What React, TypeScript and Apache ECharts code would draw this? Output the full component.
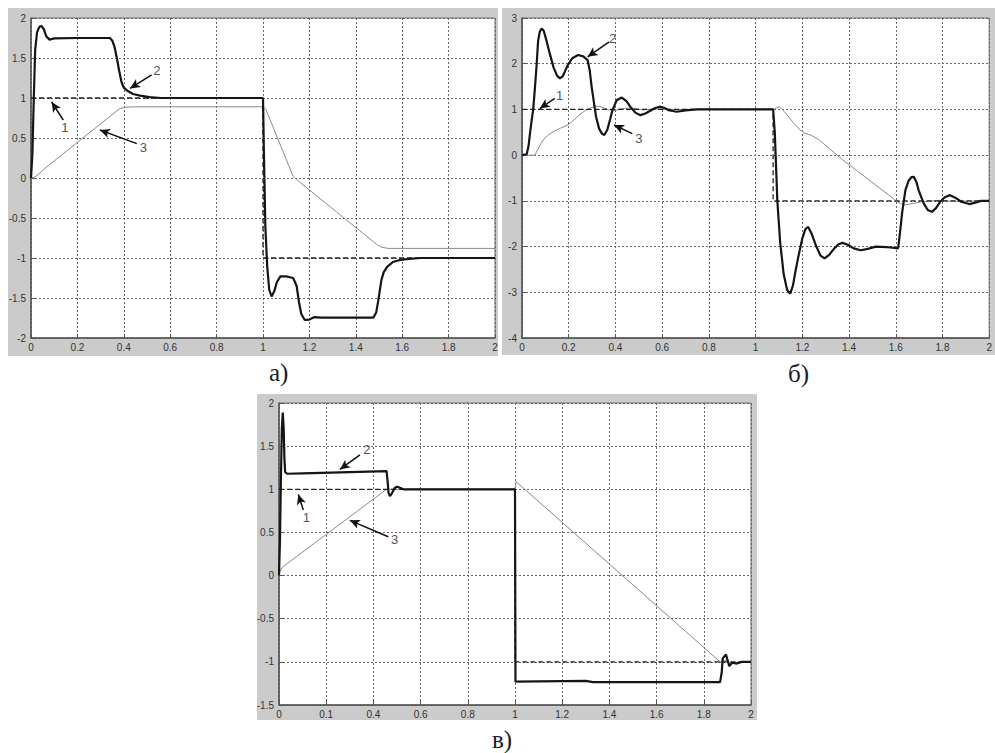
import React, { useEffect, useRef } from "react";
import * as echarts from "echarts";

// ---------- Tick labels ----------
const xTicksAB = ["0", "0.2", "0.4", "0.6", "0.8", "1", "1.2", "1.4", "1.6", "1.8", "2"];
const xTicksC = ["0", "0.1", "0.4", "0.6", "0.8", "1", "1.2", "1.4", "1.6", "1.8", "2"];
const yTicksA = ["-2", "-1.5", "-1", "-0.5", "0", "0.5", "1", "1.5", "2"];
const yTicksB = ["-4", "-3", "-2", "-1", "0", "1", "2", "3"];
const yTicksC = ["-1.5", "-1", "-0.5", "0", "0.5", "1", "1.5", "2"];

// ---------- Panel а) ----------
const aRef = [[0, 1], [1, 1], [1, -1], [2, -1]];
const aOut = [
  [0, 0], [0.006, 0.3], [0.012, 1.0], [0.018, 1.6], [0.026, 1.82], [0.036, 1.89], [0.045, 1.9],
  [0.055, 1.86], [0.066, 1.77], [0.08, 1.73], [0.1, 1.745], [0.2, 1.75], [0.34, 1.75], [0.35, 1.72],
  [0.36, 1.64], [0.37, 1.5], [0.38, 1.34], [0.39, 1.2], [0.4, 1.13], [0.415, 1.09], [0.44, 1.05],
  [0.47, 1.03], [0.51, 1.01], [0.56, 1.0], [1.0, 1.0], [1.004, 0.3], [1.01, -0.6], [1.018, -1.1],
  [1.027, -1.4], [1.037, -1.48], [1.048, -1.42], [1.06, -1.3], [1.075, -1.23], [1.1, -1.23],
  [1.13, -1.25], [1.145, -1.35], [1.155, -1.55], [1.165, -1.7], [1.18, -1.775], [1.2, -1.77],
  [1.22, -1.74], [1.25, -1.745], [1.476, -1.745], [1.488, -1.68], [1.497, -1.53], [1.51, -1.28],
  [1.52, -1.18], [1.535, -1.11], [1.56, -1.05], [1.59, -1.025], [1.63, -1.01], [1.68, -1.0], [2, -1.0],
];
const aFb = [
  [0, 0], [0.015, 0.01], [0.03, 0.04], [0.045, 0.08], [0.06, 0.12], [0.37, 0.84], [0.385, 0.87],
  [0.41, 0.885], [0.45, 0.89], [1.0, 0.89], [1.012, 0.86], [1.13, 0.02], [1.145, -0.02],
  [1.49, -0.83], [1.51, -0.865], [1.54, -0.88], [2, -0.88],
];
const aNotes = [
  { label: "1", tail: [0.139, 0.725], tip: [0.089, 0.95], text: [0.148, 0.62] },
  { label: "2", tail: [0.52, 1.29], tip: [0.427, 1.12], text: [0.545, 1.34] },
  { label: "3", tail: [0.456, 0.43], tip: [0.297, 0.6], text: [0.487, 0.38] },
];

// ---------- Panel б) ----------
const bRef = [[0, 1], [1.075, 1], [1.075, -1], [2, -1]];
const bOut = [
  [0, 0], [0.02, 0.02], [0.028, 0.2], [0.034, 0.47], [0.041, 0.75], [0.048, 1.0], [0.055, 1.45],
  [0.062, 1.93], [0.069, 2.5], [0.076, 2.7], [0.084, 2.77], [0.093, 2.72], [0.105, 2.5], [0.119, 2.22],
  [0.135, 1.92], [0.15, 1.74], [0.162, 1.68], [0.175, 1.73], [0.196, 1.97], [0.215, 2.12], [0.24, 2.19],
  [0.262, 2.16], [0.281, 2.08], [0.29, 1.85], [0.298, 1.5], [0.308, 1.15], [0.317, 0.84], [0.33, 0.58],
  [0.342, 0.47], [0.352, 0.44], [0.365, 0.55], [0.377, 0.78], [0.387, 0.98], [0.405, 1.2], [0.427, 1.26],
  [0.447, 1.18], [0.465, 1.05], [0.485, 0.93], [0.507, 0.875], [0.528, 0.91], [0.549, 0.97], [0.57, 1.03],
  [0.592, 1.06], [0.61, 1.03], [0.627, 0.985], [0.662, 0.95], [0.7, 0.98], [0.75, 1.0], [1.075, 1.0],
  [1.082, 0.5], [1.088, -0.3], [1.093, -1.0], [1.105, -1.9], [1.12, -2.6], [1.135, -2.95], [1.148, -3.03],
  [1.16, -2.85], [1.172, -2.5], [1.183, -2.22], [1.2, -1.82], [1.213, -1.62], [1.225, -1.57], [1.24, -1.72],
  [1.26, -2.0], [1.278, -2.2], [1.295, -2.26], [1.315, -2.18], [1.337, -2.04], [1.355, -1.95], [1.372, -1.92],
  [1.395, -1.96], [1.42, -2.04], [1.45, -2.08], [1.48, -2.05], [1.515, -2.0], [1.56, -2.01], [1.61, -2.04],
  [1.618, -1.7], [1.627, -1.27], [1.641, -0.77], [1.655, -0.56], [1.667, -0.48], [1.677, -0.475],
  [1.688, -0.58], [1.698, -0.77], [1.72, -1.06], [1.737, -1.2], [1.755, -1.24], [1.772, -1.16],
  [1.79, -1.02], [1.81, -0.92], [1.832, -0.875], [1.855, -0.93], [1.88, -1.02], [1.915, -1.07],
  [1.94, -1.04], [1.965, -1.0], [2, -1.0],
];
const bFb = [
  [0, 0], [0.055, 0], [0.07, 0.15], [0.09, 0.33], [0.11, 0.43], [0.132, 0.51], [0.165, 0.59],
  [0.196, 0.66], [0.22, 0.76], [0.245, 0.875], [0.267, 0.96], [0.287, 1.02], [0.31, 1.06], [0.33, 1.07],
  [0.35, 1.04], [0.37, 0.99], [0.4, 0.98], [0.43, 1.02], [0.47, 1.03], [0.52, 0.99], [0.58, 1.01],
  [0.65, 1.0], [1.08, 1.0], [1.09, 1.04], [1.1, 1.06], [1.115, 1.0], [1.135, 0.875], [1.16, 0.72],
  [1.19, 0.55], [1.215, 0.47], [1.24, 0.43], [1.27, 0.34], [1.372, -0.1], [1.59, -0.95], [1.6, -1.0],
  [1.62, -1.06], [1.64, -1.09], [1.67, -1.06], [1.71, -1.02], [1.78, -0.99], [1.85, -1.01], [2, -1.0],
];
const bNotes = [
  { label: "1", tail: [0.14, 1.24], tip: [0.076, 1.02], text: [0.163, 1.3] },
  { label: "2", tail: [0.373, 2.48], tip: [0.281, 2.15], text: [0.39, 2.53] },
  { label: "3", tail: [0.472, 0.47], tip: [0.394, 0.66], text: [0.502, 0.36] },
];

// ---------- Panel в) ----------
const cRef = [[0, 1], [1, 1], [1, -1], [2, -1]];
const cOut = [
  [0, 0], [0.004, 0.4], [0.008, 1.1], [0.012, 1.7], [0.016, 1.89], [0.02, 1.7], [0.023, 1.35],
  [0.026, 1.2], [0.035, 1.18], [0.1, 1.185], [0.3, 1.2], [0.456, 1.21], [0.46, 1.1], [0.464, 0.96],
  [0.47, 0.92], [0.478, 0.95], [0.49, 1.015], [0.5, 1.03], [0.51, 1.02], [0.527, 1.0], [1.0, 1.0],
  [1.002, -1.23], [1.3, -1.22], [1.33, -1.235], [1.869, -1.235], [1.876, -1.12], [1.88, -0.96],
  [1.894, -0.915], [1.908, -1.05], [1.92, -1.01], [1.94, -1.02], [1.96, -1.0], [2, -1.0],
];
const cFb = [
  [0, 0], [0.004, 0.05], [0.012, 0.09], [0.03, 0.13], [0.456, 1.0], [1.0, 1.0], [1.004, 1.09],
  [1.869, -1.0], [1.89, -0.98], [1.91, -1.01], [2, -1.0],
];
const cNotes = [
  { label: "1", tail: [0.103, 0.76], tip: [0.082, 0.94], text: [0.118, 0.67] },
  { label: "2", tail: [0.343, 1.4], tip: [0.258, 1.23], text: [0.374, 1.46] },
  { label: "3", tail: [0.463, 0.45], tip: [0.3, 0.64], text: [0.492, 0.41] },
];

const panels = [
  { grid: { left: 31, top: 18, width: 464, height: 320 }, frame: [8, 8, 490, 348], y: [-2, 2, 0.5], yTicks: yTicksA, xTicks: xTicksAB, ref: aRef, out: aOut, fb: aFb, notes: aNotes },
  { grid: { left: 522, top: 18, width: 472, height: 320 }, frame: [502, 8, 493, 347], y: [-4, 3, 1], yTicks: yTicksB, xTicks: xTicksAB, ref: bRef, out: bOut, fb: bFb, notes: bNotes },
  { grid: { left: 279, top: 403, width: 472, height: 302 }, frame: [257, 394, 500, 326], y: [-1.5, 2, 0.5], yTicks: yTicksC, xTicks: xTicksC, ref: cRef, out: cOut, fb: cFb, notes: cNotes },
];

const captions = [
  { text: "а)", x: 269, y: 360 },
  { text: "б)", x: 788, y: 361 },
  { text: "в)", x: 492, y: 727 },
];

export default function App() {
  const ref = useRef<HTMLDivElement>(null);
  useEffect(() => {
    if (!ref.current) return;
    const chart = echarts.init(ref.current, null, { renderer: "svg" });
    const axisColor = "#555";
    const labelStyle = { color: "#333", fontSize: 10, fontFamily: "Liberation Sans, Arial, sans-serif" };
    const grids: any[] = [];
    const xAxes: any[] = [];
    const yAxes: any[] = [];
    const series: any[] = [];
    const graphic: any[] = [];
    panels.forEach((p, i) => {
      graphic.push({
        type: "rect", z: -100, silent: true,
        shape: { x: p.frame[0], y: p.frame[1], width: p.frame[2], height: p.frame[3] },
        style: { fill: "#cbcbcb" },
      });
      grids.push({ ...p.grid, show: true, backgroundColor: "#fff", borderColor: "#6a6a6a", borderWidth: 1 });
      xAxes.push({
        type: "value", gridIndex: i, min: 0, max: 2, interval: 0.2,
        axisLine: { show: true, onZero: false, lineStyle: { color: axisColor, width: 1.5 } },
        axisTick: { show: true, inside: true, length: 4, lineStyle: { color: axisColor } },
        axisLabel: { ...labelStyle, margin: 4, formatter: (v: number) => p.xTicks[Math.round(v / 0.2)] ?? "" },
        splitLine: { show: true, lineStyle: { type: [2, 2], color: "#666", width: 1 } },
      });
      yAxes.push({
        type: "value", gridIndex: i, min: p.y[0], max: p.y[1], interval: p.y[2],
        axisLine: { show: true, onZero: false, lineStyle: { color: axisColor, width: 1.5 } },
        axisTick: { show: true, inside: true, length: 4, lineStyle: { color: axisColor } },
        axisLabel: { ...labelStyle, margin: 5, formatter: (v: number) => p.yTicks[Math.round((v - p.y[0]) / p.y[2])] ?? "" },
        splitLine: { show: true, lineStyle: { type: [2, 2], color: "#666", width: 1 } },
      });
      series.push({
        type: "line", xAxisIndex: i, yAxisIndex: i, data: p.fb, showSymbol: false, silent: true,
        lineStyle: { color: "#8a8a8a", width: 1 }, z: 2,
      });
      series.push({
        type: "line", xAxisIndex: i, yAxisIndex: i, data: p.ref, showSymbol: false, silent: true,
        lineStyle: { color: "#222", width: 1.3, type: [5, 3] }, z: 3,
      });
      series.push({
        type: "line", xAxisIndex: i, yAxisIndex: i, data: p.out, showSymbol: false, silent: true,
        lineStyle: { color: "#151515", width: 2.2 }, z: 4,
        markLine: {
          silent: true, animation: false,
          symbol: ["none", "arrow"], symbolSize: 10,
          label: { show: false },
          lineStyle: { color: "#111", width: 1.5, type: "solid" },
          itemStyle: { color: "#111" },
          emphasis: { disabled: true },
          data: p.notes.map((n) => [
            { coord: n.tail, symbol: "none" },
            { coord: n.tip, symbol: "arrow", symbolSize: [7, 10] },
          ]),
        },
      });
      series.push({
        type: "scatter", xAxisIndex: i, yAxisIndex: i, symbolSize: 1, silent: true, z: 5,
        itemStyle: { color: "rgba(255,255,255,0)" },
        data: p.notes.map((n) => [n.text[0], n.text[1], n.label]),
        label: {
          show: true, position: [0, 0], align: "center", verticalAlign: "middle",
          color: "#222", fontSize: 13, textBorderWidth: 0,
          fontFamily: "Liberation Sans, Arial, sans-serif",
          formatter: (d: any) => d.value[2],
        },
      });
    });
    captions.forEach((c) => {
      graphic.push({
        type: "text", x: c.x, y: c.y, silent: true,
        style: { text: c.text, fill: "#1b1b2b", font: '25px "Liberation Serif", "DejaVu Serif", serif' },
      });
    });
    chart.setOption({
      animation: false,
      backgroundColor: "#fff",
      graphic,
      grid: grids,
      xAxis: xAxes,
      yAxis: yAxes,
      series,
    });
    return () => chart.dispose();
  }, []);
  return <div ref={ref} style={{ position: "absolute", left: 0, top: 0, width: 995, height: 753 }} />;
}
